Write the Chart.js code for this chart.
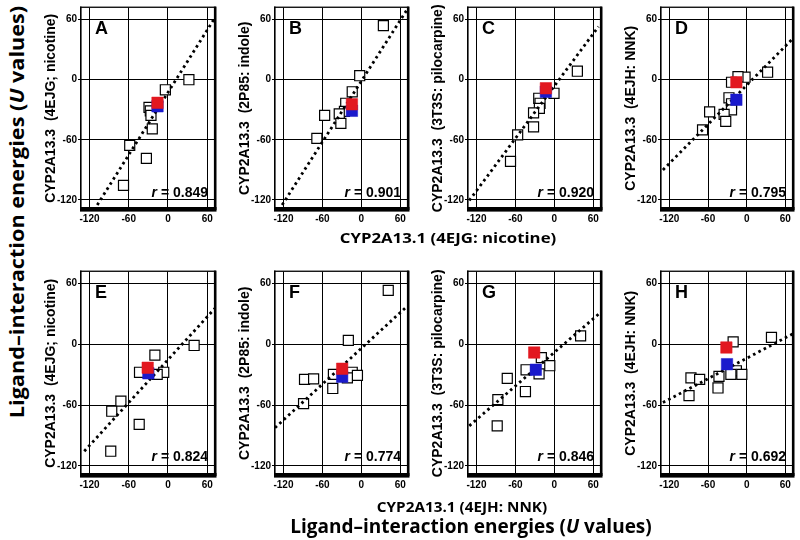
<!DOCTYPE html>
<html><head><meta charset="utf-8">
<script src="https://cdn.jsdelivr.net/npm/chart.js@4.4.1/dist/chart.umd.min.js"></script>
<style>
html,body{margin:0;padding:0;background:#fff;}
#wrap{position:relative;width:800px;height:540px;overflow:hidden;background:#fff;}
#wrap canvas{position:absolute;}
.lbl{position:absolute;white-space:nowrap;font-family:"Liberation Sans",Arial,sans-serif;font-weight:bold;color:#000;line-height:1;}
.big{font-family:"Open Sans","Noto Sans",sans-serif;font-weight:700;}
</style></head><body><div id="wrap"></div>
<script>
// ---------------- data ----------------
const panelLetters = ['A','B','C','D','E','F','G','H'];
const yTitles = [
  'CYP2A13.3  (4EJG; nicotine)', 'CYP2A13.3  (2P85: indole)', 'CYP2A13.3  (3T3S: pilocarpine)', 'CYP2A13.3  (4EJH: NNK)',
  'CYP2A13.3  (4EJG; nicotine)', 'CYP2A13.3  (2P85: indole)', 'CYP2A13.3  (3T3S: pilocarpine)', 'CYP2A13.3  (4EJH: NNK)'
];
const rValues = ['0.849','0.901','0.920','0.795','0.824','0.774','0.846','0.692'];
const rowXTitles = ['CYP2A13.1 (4EJG: nicotine)', 'CYP2A13.1 (4EJH: NNK)'];
const mainTitle = 'Ligand\u2013interaction energies (';
const tickValues = [-120, -60, 0, 60];

// white squares (x = CYP2A13.1, y = CYP2A13.3)
const aX = [32, -4, -29, -27, -26, -24, -58.5, -33, -68];
const aY = [0, -10, -27.5, -31, -35.5, -49, -65.5, -78.5, -105.5];
const bX = [34, -2.5, -14, -24, -26, -34, -31.5, -56.5, -68.5];
const bY = [54, 4, -12, -23.5, -31.5, -34, -43.5, -35.5, -58.5];
const cX = [35.5, -0.5, -24, -22, -23, -32, -32, -56.5, -67.5];
const cY = [8.5, -13.5, -18.5, -23.5, -28.5, -33, -47, -55, -81.5];
const dX = [32.5, -2.5, -13.5, -23.5, -27.5, -23.5, -23.5, -35, -32.5, -57.5, -68.5];
const dY = [7.5, 2.5, 3, -2.5, -18, -24, -30, -34.5, -41.5, -32, -50];
const eX = [40, -20, -43.5, -6.5, -16.5, -72, -86, -44, -87.5];
const eY = [-1, -10.5, -27.5, -27.5, -29.5, -56, -66, -79, -105.5];
const fX = [41.5, -20, -43, -14, -6, -21.5, -87.5, -73.5, -44, -89];
const fY = [53.5, 4, -29.5, -27.5, -30.5, -33, -34.5, -34, -43.5, -58.5];
const gX = [40.5, -20, -7, -43.5, -23.5, -72.5, -44.5, -87, -88];
const gY = [8.5, -13, -21, -25, -29, -33.5, -46.5, -54.5, -80.5];
const hX = [38.5, -21, -16, -7.5, -24.5, -43, -86.5, -73, -44.5, -89.5];
const hY = [7, 2.5, -26, -29.5, -29.5, -31.5, -33, -34.5, -43, -50.5];

// highlighted compounds [x, y] per panel A..H
const redPts  = [[-16,-23],[-14.5,-24.5],[-13,-8.5],[-16,-2.5],[-31,-23],[-29.5,-24],[-31,-8],[-31.5,-3]];
const bluePts = [[-16,-26.5],[-14.5,-31],[-13,-12],[-16,-20],[-30,-28.5],[-29.5,-32],[-28.5,-25],[-30.5,-19.5]];

// regression line end points [x0, y0, x1, y1] per panel
const fitLines = [
  [-113,-130, 70,60], [-127,-130, 70,69.5], [-131,-120.5, 68,53], [-130,-90, 70,40],
  [-128,-105.5, 73,36.5], [-133,-82.3, 71,38], [-131,-80.4, 71,31.5], [-130,-57.4, 72,10.6]
];

// ---------------- layout ----------------
const frameLefts = [81, 275, 468, 661];
const frameWidths = [138, 137, 137, 136];
const rowTops = [3, 267];
const rowHeights = [206, 208];
const RED = 'rgb(226,24,32)', BLUE = 'rgb(26,26,204)';
const tickFont = {family: '"Liberation Sans Narrow","Liberation Sans",Arial,sans-serif', size: 10, weight: 'bold'};

const whiteXs = [aX,bX,cX,dX,eX,fX,gX,hX];
const whiteYs = [aY,bY,cY,dY,eY,fY,gY,hY];

const framePlugin = {
  id: 'frame',
  afterDraw(chart) {
    const {ctx, chartArea: a} = chart;
    ctx.save();
    ctx.fillStyle = '#000';
    ctx.fillRect(a.left - 1, a.top - 1, a.right - a.left + 2.5, 1.3);
    ctx.fillRect(a.left - 1, a.top - 1, 1.6, a.bottom - a.top + 2);
    ctx.fillRect(a.right - 0.5, a.top - 1, 2.6, a.bottom - a.top + 2);
    ctx.fillRect(a.left - 1, a.bottom - 2, a.right - a.left + 3.1, 4.6);
    ctx.restore();
  }
};

const wrap = document.getElementById('wrap');
const YW = 40, XH = 22, PADT = 4, PADR = 4;

function addLabel(html, cls, styles) {
  const d = document.createElement('div');
  d.className = cls;
  d.innerHTML = html;
  Object.assign(d.style, styles);
  wrap.appendChild(d);
  return d;
}

for (let i = 0; i < 8; i++) {
  const col = i % 4, row = Math.floor(i / 4);
  const fl = frameLefts[col], fw = frameWidths[col], ft = rowTops[row], fh = rowHeights[row];
  const cv = document.createElement('canvas');
  const cw = YW + fw + PADR, ch = PADT + fh + XH;
  cv.width = cw; cv.height = ch;
  cv.style.left = (fl - YW) + 'px';
  cv.style.top = (ft - PADT) + 'px';
  cv.style.width = cw + 'px'; cv.style.height = ch + 'px';
  wrap.appendChild(cv);

  const white = whiteXs[i].map((x, k) => ({x, y: whiteYs[i][k]}));
  const fl4 = fitLines[i];
  new Chart(cv, {
    type: 'scatter',
    data: {datasets: [
      {data: [{x: redPts[i][0], y: redPts[i][1]}], pointStyle: 'rect', pointRadius: 8.1, backgroundColor: RED, borderColor: RED, borderWidth: 0.5, order: 0},
      {data: [{x: bluePts[i][0], y: bluePts[i][1]}], pointStyle: 'rect', pointRadius: 8.1, backgroundColor: BLUE, borderColor: BLUE, borderWidth: 0.5, order: 1},
      {data: [{x: fl4[0], y: fl4[1]}, {x: fl4[2], y: fl4[3]}], showLine: true, pointRadius: 0, borderColor: '#000', borderWidth: 2.8, borderDash: [2.6, 3.4], borderCapStyle: 'butt', fill: false, order: 2},
      {data: white, pointStyle: 'rect', pointRadius: 7.1, backgroundColor: '#fff', borderColor: '#000', borderWidth: 1.2, order: 3}
    ]},
    options: {
      responsive: false, animation: false, devicePixelRatio: 1,
      layout: {padding: {left: 0, right: PADR, top: PADT, bottom: 0}},
      plugins: {legend: {display: false}, tooltip: {enabled: false}},
      events: [],
      scales: {
        x: {
          type: 'linear', min: -133, max: 71,
          afterBuildTicks: s => { s.ticks = tickValues.map(v => ({value: v})); },
          afterFit: s => { s.height = XH; },
          grid: {color: '#000', lineWidth: 1, drawTicks: false},
          border: {display: false},
          ticks: {font: tickFont, color: '#000', padding: 4, maxRotation: 0, autoSkip: false}
        },
        y: {
          type: 'linear', min: -129, max: 72,
          afterBuildTicks: s => { s.ticks = tickValues.map(v => ({value: v})); },
          afterFit: s => { s.width = YW; },
          grid: {color: '#000', lineWidth: 1, tickLength: 3},
          border: {display: false},
          ticks: {font: tickFont, color: '#000', padding: 1, autoSkip: false},
          title: {display: true, text: yTitles[i], color: '#000', padding: {top: 2, bottom: 0},
                  font: {family: '"Liberation Sans",Arial,sans-serif', size: 14, weight: 'bold'}}
        }
      }
    },
    plugins: [framePlugin]
  });

  // panel letter
  addLabel(panelLetters[i], 'lbl', {left: (fl + 14) + 'px', top: (ft + 25) + 'px', fontSize: '18px', transform: 'translateY(-50%)'});
  // r value
  addLabel('<i>r</i> = ' + rValues[i], 'lbl', {right: (800 - (fl + fw - 11)) + 'px', top: (ft + 189) + 'px', fontSize: '14px', transform: 'translateY(-50%)'});
}

// global titles, scaled horizontally to the measured reference length
function fitLabel(el, target, rotate) {
  const s = target / el.offsetWidth;
  el.style.transform = 'translate(-50%,-50%)' + (rotate ? ' rotate(-90deg)' : '') + ' scaleX(' + s + ')';
}
const t1 = addLabel(rowXTitles[0], 'lbl big', {left: '448px', top: '237px', fontSize: '15px'});
fitLabel(t1, 217, false);
const t2 = addLabel(rowXTitles[1], 'lbl big', {left: '462px', top: '506px', fontSize: '15px'});
fitLabel(t2, 170, false);
const mt = mainTitle + '<i>U</i> values)';
const t3 = addLabel(mt, 'lbl big', {left: '471px', top: '526px', fontSize: '19px'});
fitLabel(t3, 362, false);
const t4 = addLabel(mt, 'lbl big', {left: '17px', top: '212px', fontSize: '19px'});
fitLabel(t4, 413, true);
</script>
</body></html>
